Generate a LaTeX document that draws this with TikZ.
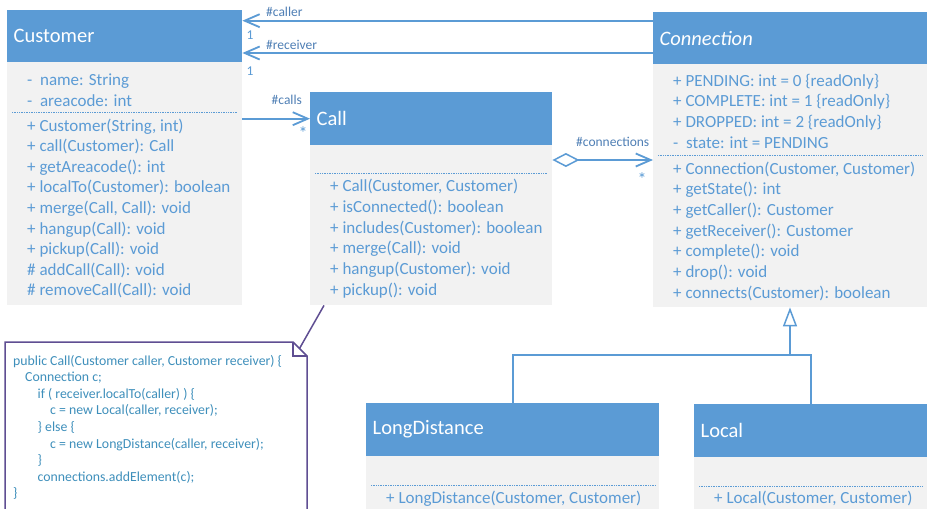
\documentclass[tikz,border=0pt]{standalone}
\usepackage{fontspec}
\setmainfont{Carlito}
\usetikzlibrary{arrows.meta}
\definecolor{hdrblue}{HTML}{5B9BD5}
\definecolor{bodygray}{HTML}{F2F2F2}
\definecolor{txtblue}{HTML}{5B9BD5}
\definecolor{lblblue}{HTML}{4F7FB5}
\definecolor{notebd}{HTML}{5F4E92}
\definecolor{notetxt}{HTML}{3E8FBB}
\begin{document}
\begin{tikzpicture}[x=1pt,y=-1pt,
  hdr/.style={fill=hdrblue,text=white,anchor=north west,inner xsep=6.5pt,inner ysep=0pt,align=left,font=\fontsize{20.5}{24}\selectfont},
  bodybox/.style={fill=bodygray,anchor=north west,inner sep=0pt},
  btxt/.style={anchor=base west,inner sep=0pt,text=txtblue,font=\fontsize{17}{20}\selectfont},
  dotline/.style={draw=txtblue,line width=0.6pt,dash pattern=on 0.8pt off 0.9pt},
  lbl/.style={anchor=base west,inner sep=0pt,text=lblblue,font=\fontsize{13.5}{16}\selectfont},
  mult/.style={anchor=north,inner sep=0pt,text=txtblue,font=\fontsize{18}{20}\selectfont},
  conline/.style={draw=hdrblue,line width=1.8pt},
  assoc/.style={conline,-{Straight Barb[length=15pt,width=13pt]}},
  aggr/.style={conline,{Diamond[open,length=27pt,width=14pt,line width=1.5pt]}-{Straight Barb[length=15pt,width=13pt]}},
  genline/.style={conline,-{Triangle[open,length=19pt,width=14pt,line width=1.5pt]}},
  noteline/.style={draw=notebd,line width=1.5pt,line join=miter},
  ntxt/.style={anchor=base west,inner sep=0pt,text=notetxt,font=\fontsize{13.8}{16}\selectfont}
]
\useasboundingbox (0,0) rectangle (927,509);
\fill[white] (0,0) rectangle (927,509);

% ---------- Customer ----------
\node[bodybox,minimum width=235pt,minimum height=243pt] (custB) at (7,62) {};
\node[hdr,text width=222pt,minimum height=52pt] (custH) at (7,10) {Customer};
\node[btxt] (custA0) at (27,85) {-\ \ name: String};
\node[btxt] (custA1) at (27,106) {-\ \ areacode: int};
\draw[dotline] (12,112.5) -- (238,112.5);
\foreach \t [count=\i from 0] in {
 {+ Customer(String, int)},
 {+ call(Customer): Call},
 {+ getAreacode(): int},
 {+ localTo(Customer): boolean},
 {+ merge(Call, Call): void},
 {+ hangup(Call): void},
 {+ pickup(Call): void},
 {\# addCall(Call): void},
 {\# removeCall(Call): void}}
 \node[btxt] (custM\i) at (27,{131+20.6*\i}) {\t};

% ---------- Call ----------
\node[bodybox,minimum width=242pt,minimum height=160pt] (callB) at (310,145) {};
\node[hdr,text width=229pt,minimum height=53pt] (callH) at (310,92) {Call};
\draw[dotline] (315,173) -- (547,173);
\foreach \t [count=\i from 0] in {
 {+ Call(Customer, Customer)},
 {+ isConnected(): boolean},
 {+ includes(Customer): boolean},
 {+ merge(Call): void},
 {+ hangup(Customer): void},
 {+ pickup(): void}}
 \node[btxt] (callM\i) at (330,{191.7+20.66*\i}) {\t};

% ---------- Connection ----------
\node[bodybox,minimum width=274pt,minimum height=243pt] (connB) at (653,64) {};
\node[hdr,text width=261pt,minimum height=52pt] (connH) at (653,12) {\itshape Connection};
\foreach \t [count=\i from 0] in {
 {+ PENDING: int = 0 \{readOnly\}},
 {+ COMPLETE: int = 1 \{readOnly\}},
 {+ DROPPED: int = 2 \{readOnly\}},
 {-\ \ state: int = PENDING}}
 \node[btxt] (connA\i) at (673,{86+20.8*\i}) {\t};
\draw[dotline] (658,155.7) -- (922,155.7);
\foreach \t [count=\i from 0] in {
 {+ Connection(Customer, Customer)},
 {+ getState(): int},
 {+ getCaller(): Customer},
 {+ getReceiver(): Customer},
 {+ complete(): void},
 {+ drop(): void},
 {+ connects(Customer): boolean}}
 \node[btxt] (connM\i) at (673,{174+20.7*\i}) {\t};

% ---------- LongDistance ----------
\node[bodybox,minimum width=293pt,minimum height=59pt] (ldB) at (366,456) {};
\node[hdr,text width=280pt,minimum height=53pt] (ldH) at (366,403) {LongDistance};
\draw[dotline] (371,485) -- (655,485);
\node[btxt] (ldM0) at (386,503) {+ LongDistance(Customer, Customer)};

% ---------- Local ----------
\node[bodybox,minimum width=233pt,minimum height=58pt] (locB) at (694,457) {};
\node[hdr,text width=220pt,minimum height=53pt] (locH) at (694,404) {Local};
\draw[dotline] (699,486) -- (922,486);
\node[btxt] (locM0) at (714,503) {+ Local(Customer, Customer)};

% ---------- associations ----------
\coordinate (callerY) at (600,20.7);
\coordinate (receiverY) at (600,53);
\draw[assoc] (connH.west |- callerY) -- (custH.east |- callerY);
\draw[assoc] (connH.west |- receiverY) -- (custH.east |- receiverY);
\node[lbl] (lCaller) at (266,16) {\#caller};
\node[lbl] (lReceiver) at (266,49.3) {\#receiver};
\node[lbl,text=txtblue] (m1) at (246.5,39.3) {1};
\node[lbl,text=txtblue] (m2) at (246.5,75) {1};

\draw[assoc] (callH.west -| custB.east) -- (callH.west);
\node[lbl] (lCalls) at (271.5,104) {\#calls};
\node[mult] (m3) at (303,126.7) {*};

\coordinate (aggY) at (600,160);
\draw[aggr] (callB.east |- aggY) -- (connB.west |- aggY);
\node[lbl] (lConns) at (576,146.7) {\#connections};
\node[mult] (m4) at (642,172.7) {*};

% ---------- generalization ----------
\coordinate (genJ) at (790,355);
\draw[genline] (genJ) -- (connB.south -| genJ);
\draw[conline] (ldH.north) |- (genJ) -| (locH.north);

% ---------- note ----------
\coordinate (noteTip) at (299.5,348.5);
\fill[white] (5,515) -- (5,342) -- (293,342) -- (307,356) -- (307,515) -- cycle;
\draw[noteline] (5,515) -- (5,342) -- (293,342) -- (307,356) -- (307,515);
\draw[noteline] (293,342) -- (293,356) -- (307,356);
\draw[noteline] ([xshift=14pt]callB.south west) -- (noteTip);
\node[ntxt] (n0) at (13,365) {public Call(Customer caller, Customer receiver) \{};
\node[ntxt] (n1) at (25,381.6) {Connection c;};
\node[ntxt] (n2) at (37.5,398.2) {if ( receiver.localTo(caller) ) \{};
\node[ntxt] (n3) at (50,414.8) {c = new Local(caller, receiver);};
\node[ntxt] (n4) at (37.5,431.4) {\} else \{};
\node[ntxt] (n5) at (50,448) {c = new LongDistance(caller, receiver);};
\node[ntxt] (n6) at (37.5,464.6) {\}};
\node[ntxt] (n7) at (37.5,481.2) {connections.addElement(c);};
\node[ntxt] (n8) at (13,497.8) {\}};
\end{tikzpicture}
\end{document}
